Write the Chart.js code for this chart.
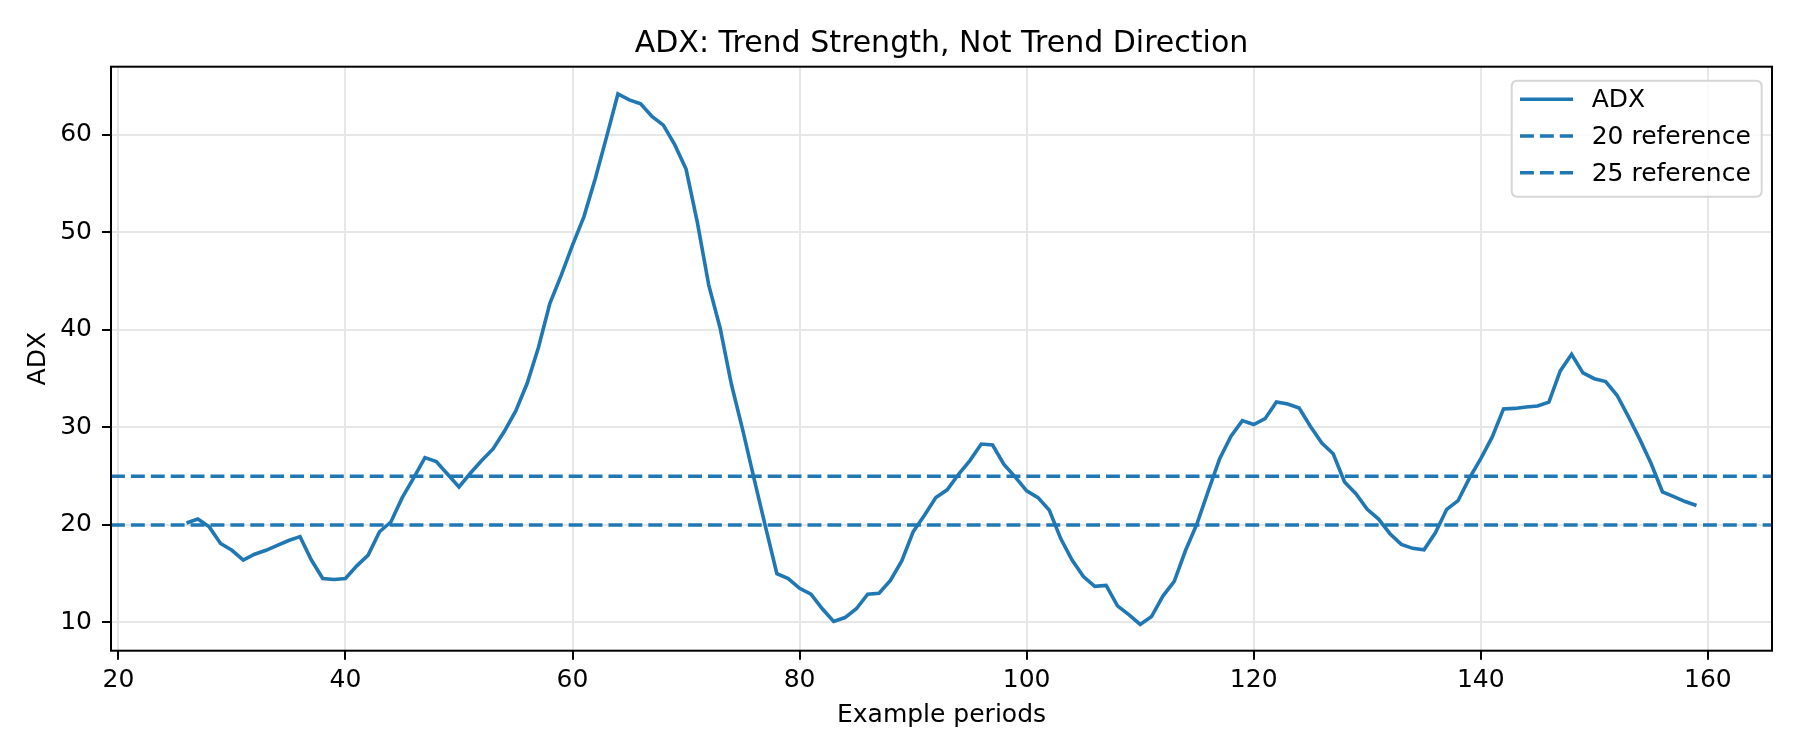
<!DOCTYPE html>
<html>
<head>
<meta charset="utf-8">
<script src="https://cdn.jsdelivr.net/npm/chart.js@4.4.1/dist/chart.umd.min.js"></script>
<style>
  html, body { margin: 0; padding: 0; background: #fff; }
  #chart { display: block; }
</style>
</head>
<body>
<canvas id="chart" width="1800" height="756" style="width:1800px;height:756px"></canvas>
<script>
// ADX values, one per period starting at period 26
var firstPeriod = 26;
var adx = [
  20.2, 20.6, 19.8, 18.1, 17.4, 16.4, 17.0, 17.4, 17.9, 18.4,
  18.8, 16.4, 14.5, 14.4, 14.5, 15.8, 16.9, 19.3, 20.3, 22.8,
  24.8, 26.9, 26.5, 25.2, 23.9, 25.3, 26.6, 27.8, 29.6, 31.7,
  34.5, 38.2, 42.7, 45.6, 48.7, 51.6, 55.5, 59.8, 64.2, 63.6,
  63.2, 61.9, 61.0, 59.0, 56.5, 51.0, 44.6, 40.2, 34.4, 29.7,
  24.7, 19.8, 15.0, 14.5, 13.5, 12.9, 11.4, 10.1, 10.5, 11.4,
  12.9, 13.0, 14.3, 16.3, 19.3, 21.0, 22.8, 23.6, 25.2, 26.6,
  28.3, 28.2, 26.2, 24.9, 23.5, 22.8, 21.5, 18.6, 16.4, 14.7,
  13.7, 13.8, 11.7, 10.8, 9.8, 10.6, 12.7, 14.2, 17.4, 20.1,
  23.5, 26.8, 29.1, 30.7, 30.3, 30.9, 32.6, 32.4, 32.0, 30.1,
  28.4, 27.3, 24.4, 23.2, 21.6, 20.6, 19.1, 18.0, 17.6, 17.45,
  19.2, 21.6, 22.5, 24.8, 26.8, 29.0, 31.9, 31.95, 32.1, 32.2,
  32.6, 35.8, 37.5, 35.6, 35.0, 34.7, 33.3, 31.1, 28.8, 26.3,
  23.4, 22.9, 22.4, 22.0
];
var refLevels = [20, 25];
var refLabels = ["20 reference", "25 reference"];
var xTicks = [20, 40, 60, 80, 100, 120, 140, 160];
var yTicks = [10, 20, 30, 40, 50, 60];

var periods = adx.map(function (v, i) { return firstPeriod + i; });

// axis limits with matplotlib style 5% margins
var xMin = 19.35, xMax = 165.65;
var yMin = 7.1, yMax = 67.0;

var blue = "#1f77b4";
var font = "'DejaVu Sans', sans-serif";
var dash = [13.9, 6];

var datasets = [{
  label: "ADX",
  data: periods.map(function (p, i) { return { x: p, y: adx[i] }; }),
  borderColor: blue,
  borderWidth: 3.6,
  pointRadius: 0,
  tension: 0,
  fill: false
}];
refLevels.forEach(function (lvl, i) {
  datasets.push({
    label: refLabels[i],
    data: [{ x: xMin, y: lvl }, { x: xMax, y: lvl }],
    borderColor: blue,
    borderWidth: 3.6,
    borderDash: dash,
    pointRadius: 0,
    fill: false
  });
});

// frame + matplotlib like legend inside the axes
var framePlugin = {
  id: "frame",
  afterDraw: function (chart) {
    var ctx = chart.ctx, a = chart.chartArea;
    ctx.save();
    ctx.strokeStyle = "#000";
    ctx.lineWidth = 2;
    ctx.strokeRect(a.left, a.top, a.right - a.left, a.bottom - a.top);

    // legend box
    var bx = 1511.7, by = 80.7, bw = 250, bh = 116, r = 6;
    ctx.beginPath();
    ctx.moveTo(bx + r, by);
    ctx.lineTo(bx + bw - r, by);
    ctx.quadraticCurveTo(bx + bw, by, bx + bw, by + r);
    ctx.lineTo(bx + bw, by + bh - r);
    ctx.quadraticCurveTo(bx + bw, by + bh, bx + bw - r, by + bh);
    ctx.lineTo(bx + r, by + bh);
    ctx.quadraticCurveTo(bx, by + bh, bx, by + bh - r);
    ctx.lineTo(bx, by + r);
    ctx.quadraticCurveTo(bx, by, bx + r, by);
    ctx.closePath();
    ctx.fillStyle = "rgba(255,255,255,0.8)";
    ctx.fill();
    ctx.strokeStyle = "#d6d6d6";
    ctx.lineWidth = 2;
    ctx.stroke();

    ctx.font = "25px " + font;
    ctx.textBaseline = "middle";
    ctx.textAlign = "left";
    chart.data.datasets.forEach(function (ds, i) {
      var y = 99.3 + i * 36.7;
      ctx.beginPath();
      ctx.setLineDash(ds.borderDash || []);
      ctx.strokeStyle = ds.borderColor;
      ctx.lineWidth = ds.borderWidth;
      ctx.moveTo(1520, y);
      ctx.lineTo(1573, y);
      ctx.stroke();
      ctx.setLineDash([]);
      ctx.fillStyle = "#000";
      ctx.fillText(ds.label, 1591.7, y + 1.5);
    });
    ctx.restore();
  }
};

var ctx = document.getElementById("chart");
var chart = new Chart(ctx, {
  type: "line",
  data: { datasets: datasets },
  options: {
    responsive: false,
    animation: false,
    devicePixelRatio: 1,
    layout: { padding: { left: 0, right: 28, top: 0, bottom: 0 } },
    plugins: {
      legend: { display: false },
      tooltip: { enabled: false },
      title: {
        display: true,
        text: "ADX: Trend Strength, Not Trend Direction",
        color: "#000",
        fullSize: false,
        font: { family: font, size: 30, weight: "normal" },
        padding: { top: 26.5, bottom: 4.2 }
      }
    },
    scales: {
      x: {
        type: "linear",
        min: xMin,
        max: xMax,
        afterBuildTicks: function (s) { s.ticks = xTicks.map(function (v) { return { value: v }; }); },
        afterFit: function (s) { s.height = 105.3; },
        grid: { color: "#e7e7e7", lineWidth: 2, tickColor: "#000", tickLength: 9, tickWidth: 2 },
        border: { display: false },
        ticks: { color: "#000", font: { family: font, size: 25 }, padding: 6, maxRotation: 0 },
        title: {
          display: true,
          text: "Example periods",
          color: "#000",
          font: { family: font, size: 25 },
          padding: { top: 26, bottom: 26 }
        }
      },
      y: {
        type: "linear",
        min: yMin,
        max: yMax,
        afterBuildTicks: function (s) { s.ticks = yTicks.map(function (v) { return { value: v }; }); },
        afterFit: function (s) { s.width = 111; },
        grid: { color: "#e7e7e7", lineWidth: 2, tickColor: "#000", tickLength: 9, tickWidth: 2 },
        border: { display: false },
        ticks: { color: "#000", font: { family: font, size: 25 }, padding: 10 },
        title: {
          display: true,
          text: "ADX",
          color: "#000",
          font: { family: font, size: 25 },
          padding: { top: 23, bottom: 23 }
        }
      }
    }
  },
  plugins: [framePlugin]
});
</script>
</body>
</html>
